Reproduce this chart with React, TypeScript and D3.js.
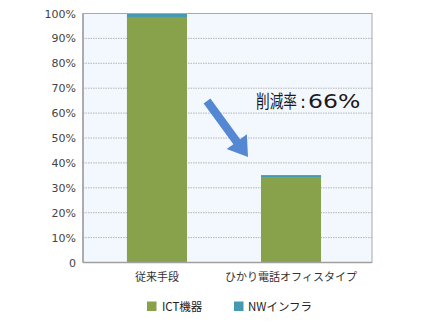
import React from "react";
import * as d3 from "d3";

const categories = ["従来手段", "ひかり電話オフィスタイプ"];
const ictValues = [98.6, 34.0];
const nwValues = [1.4, 1.1];
const seriesNames = ["ICT機器", "NWインフラ"];
const yTicks = [0, 10, 20, 30, 40, 50, 60, 70, 80, 90, 100];
const annotationParts = ["削減率", ":", "66%"];

const W = 432;
const H = 323;
const left = 83;
const right = 372;
const top = 13.5;
const bottom = 262.5;
const colors = ["#87a24b", "#4599b0"];
const font = "'Noto Sans CJK JP', 'Noto Sans', sans-serif";
const latin = "'DejaVu Sans', 'Noto Sans CJK JP', sans-serif";

export default function App() {
  const x = d3
    .scaleBand<string>()
    .domain(categories)
    .range([left, right])
    .paddingInner(0.552)
    .paddingOuter(0.354)
    .align(0.463);
  const y = d3.scaleLinear().domain([0, 100]).range([bottom, top]);

  // arrow geometry
  const start: [number, number] = [207, 101];
  const tip: [number, number] = [248, 157];
  const dx = tip[0] - start[0];
  const dy = tip[1] - start[1];
  const len = Math.hypot(dx, dy);
  const u = [dx / len, dy / len];
  const n = [-u[1], u[0]];
  const hw = 4.2;
  const headLen = 19;
  const headHw = 12.5;
  const base = [tip[0] - u[0] * headLen, tip[1] - u[1] * headLen];
  const pts: [number, number][] = [
    [start[0] + n[0] * hw, start[1] + n[1] * hw],
    [base[0] + n[0] * hw, base[1] + n[1] * hw],
    [base[0] + n[0] * headHw, base[1] + n[1] * headHw],
    tip,
    [base[0] - n[0] * headHw, base[1] - n[1] * headHw],
    [base[0] - n[0] * hw, base[1] - n[1] * hw],
    [start[0] - n[0] * hw, start[1] - n[1] * hw],
  ];

  return (
    <svg
      width={W}
      height={H}
      style={{ position: "absolute", left: 0, top: 0, background: "#fff" }}
      fontFamily={font}
    >
      <rect x={left} y={top} width={right - left} height={bottom - top} fill="#f3f8ff" />
      {yTicks
        .filter((t) => t > 0 && t < 100)
        .map((t) => (
          <line
            key={t}
            x1={left}
            x2={right}
            y1={y(t)}
            y2={y(t)}
            stroke="#b4b4b4"
            strokeWidth={1}
            strokeDasharray="1.5,1"
          />
        ))}
      {categories.map((c, i) => (
        <g key={c}>
          <rect
            x={x(c)}
            width={x.bandwidth()}
            y={y(ictValues[i])}
            height={y(0) - y(ictValues[i])}
            fill={colors[0]}
          />
          <rect
            x={x(c)}
            width={x.bandwidth()}
            y={y(ictValues[i] + nwValues[i])}
            height={y(ictValues[i]) - y(ictValues[i] + nwValues[i])}
            fill={colors[1]}
          />
          <text
            x={(x(c) as number) + x.bandwidth() / 2}
            y={281}
            textAnchor="middle"
            fontSize={11}
            fill="#333"
          >
            {c}
          </text>
        </g>
      ))}
      <rect
        x={left}
        y={top}
        width={right - left}
        height={bottom - top}
        fill="none"
        stroke="#a8a8a8"
        strokeWidth={1}
      />
      <line x1={left} x2={left} y1={top} y2={bottom} stroke="#a0a0a0" strokeWidth={1.5} />
      <line x1={left} x2={right} y1={bottom} y2={bottom} stroke="#a0a0a0" strokeWidth={1.5} />
      {yTicks.map((t) => (
        <text
          key={t}
          x={76}
          y={y(t) + 4}
          textAnchor="end"
          fontSize={11}
          fontFamily={latin}
          fill="#444"
        >
          {t === 0 ? "0" : `${t}%`}
        </text>
      ))}
      <polygon points={pts.map((p) => p.join(",")).join(" ")} fill="#5588d2" />
      <text
        transform="translate(256,107.5) scale(0.76,1)"
        fontSize={18}
        fill="#1a1a1a"
      >
        {annotationParts[0]}
      </text>
      <text x={300} y={107.5} fontSize={18} fontFamily={latin} fill="#1a1a1a">
        {annotationParts[1]}
      </text>
      <text
        transform="translate(308,107.5) scale(1.24,1)"
        fontSize={19}
        fontFamily={latin}
        fill="#1a1a1a"
      >
        {annotationParts[2]}
      </text>
      {seriesNames.map((s, i) => (
        <g key={s}>
          <rect x={i === 0 ? 147 : 234} y={301.5} width={9.5} height={9.5} fill={colors[i]} />
          <text x={i === 0 ? 162 : 248} y={311} fontSize={11.5} fill="#222">
            {s}
          </text>
        </g>
      ))}
    </svg>
  );
}
